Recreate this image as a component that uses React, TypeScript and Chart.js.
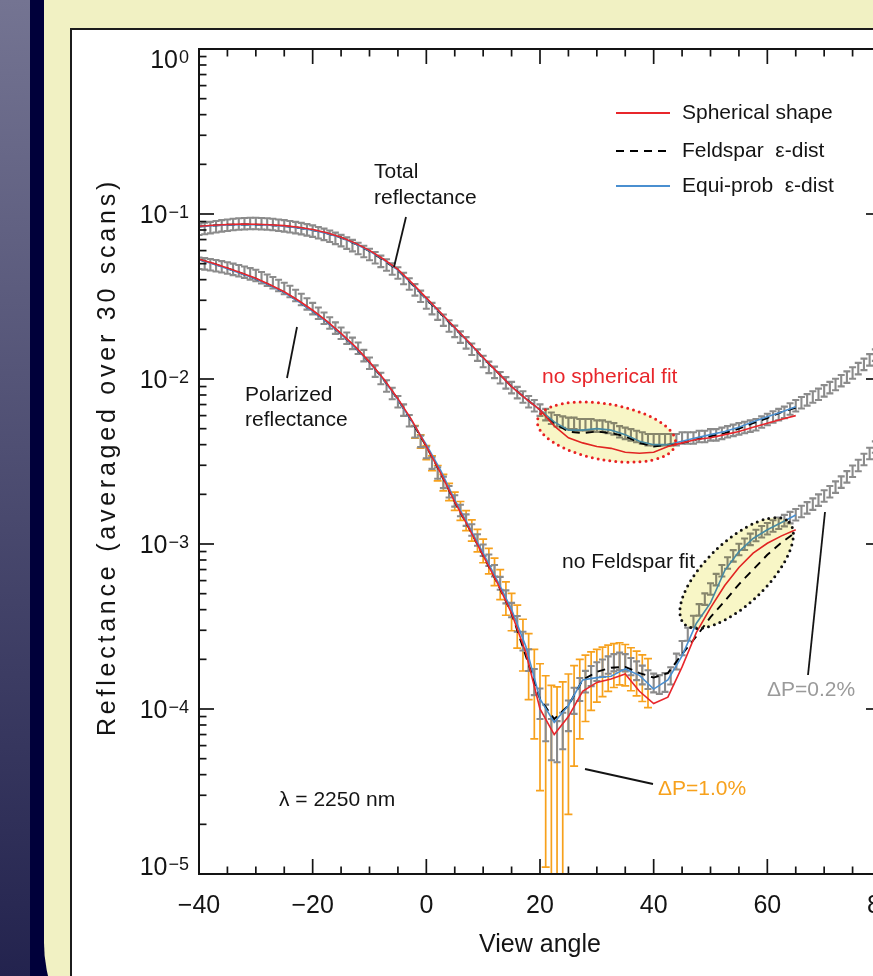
import { useEffect, useRef } from 'react';
import { Chart, registerables } from 'chart.js';

Chart.register(...registerables);

const FONT = "'Liberation Sans', Arial, sans-serif";

// ---------------- measured data (1 degree steps) ----------------
const ANGLES = [
  -40, -39, -38, -37, -36, -35, -34, -33, -32, -31,
  -30, -29, -28, -27, -26, -25, -24, -23, -22, -21,
  -20, -19, -18, -17, -16, -15, -14, -13, -12, -11,
  -10, -9, -8, -7, -6, -5, -4, -3, -2, -1,
  0, 1, 2, 3, 4, 5, 6, 7, 8, 9,
  10, 11, 12, 13, 14, 15, 16, 17, 18, 19,
  20, 21, 22, 23, 24, 25, 26, 27, 28, 29,
  30, 31, 32, 33, 34, 35, 36, 37, 38, 39,
  40, 41, 42, 43, 44, 45, 46, 47, 48, 49,
  50, 51, 52, 53, 54, 55, 56, 57, 58, 59,
  60, 61, 62, 63, 64, 65, 66, 67, 68, 69,
  70, 71, 72, 73, 74, 75, 76, 77, 78, 79,
  80,
];

const TOTAL_MEAS = [
  0.0810, 0.0820, 0.0830, 0.0840, 0.0850, 0.0858, 0.0866, 0.0872, 0.0876, 0.0878,
  0.0878, 0.0876, 0.0872, 0.0866, 0.0858, 0.0850, 0.0840, 0.0830, 0.0818, 0.0804,
  0.0790, 0.0772, 0.0755, 0.0735, 0.0714, 0.0692, 0.0668, 0.0645, 0.0620, 0.0595,
  0.0570, 0.0545, 0.0518, 0.0492, 0.0466, 0.0440, 0.0408, 0.0378, 0.0348, 0.0318,
  0.0290, 0.0268, 0.0248, 0.0228, 0.0210, 0.0195, 0.0180, 0.0166, 0.0152, 0.0140,
  0.0128, 0.0118, 0.0110, 0.0102, 0.0095, 0.0089, 0.0083, 0.0078, 0.0073, 0.0069,
  0.0065, 0.0061, 0.0058, 0.0056, 0.0055, 0.0054, 0.0054, 0.0053, 0.0053, 0.0053,
  0.0052, 0.0052, 0.0051, 0.0050, 0.0048, 0.0047, 0.0046, 0.0045, 0.0044, 0.0043,
  0.0043, 0.0043, 0.0043, 0.0043, 0.0043, 0.0044, 0.0044, 0.0044, 0.0045, 0.0045,
  0.0046, 0.0046, 0.0047, 0.0048, 0.0049, 0.0050, 0.0051, 0.0052, 0.0053, 0.0055,
  0.0057, 0.0059, 0.0061, 0.0063, 0.0066, 0.0069, 0.0072, 0.0075, 0.0078, 0.0081,
  0.0085, 0.0089, 0.0093, 0.0098, 0.0103, 0.0109, 0.0116, 0.0123, 0.0131, 0.0140,
  0.0150,
];
const TOTAL_ERR_PCT = 8;

const POLAR_MEAS = [
  0.0505, 0.0500, 0.0494, 0.0487, 0.0480, 0.0472, 0.0463, 0.0454, 0.0445, 0.0435,
  0.0425, 0.0412, 0.0398, 0.0384, 0.0370, 0.0355, 0.0340, 0.0322, 0.0304, 0.0286,
  0.0268, 0.0251, 0.0234, 0.0219, 0.0204, 0.0190, 0.0177, 0.0165, 0.0154, 0.0139,
  0.0125, 0.0112, 0.0101, 0.0091, 0.0082, 0.0073, 0.0065, 0.0056, 0.0048, 0.0042,
  0.0036, 0.0031, 0.0027, 0.00237, 0.00208, 0.00183, 0.0016, 0.0014, 0.00122, 0.00106,
  0.00092, 0.0008, 0.00069, 0.00058, 0.00048, 0.0004, 0.00033, 0.00026, 0.0002, 0.000148,
  0.00011, 0.000085, 0.000068, 0.000066, 0.000076, 0.000093, 0.000114, 0.000133, 0.000148, 0.00016,
  0.00017, 0.000178, 0.000186, 0.000192, 0.000196, 0.000192, 0.000182, 0.000172, 0.000162, 0.000152,
  0.000145, 0.000142, 0.000146, 0.00016, 0.000195, 0.000235, 0.000285, 0.00034, 0.0004, 0.000465,
  0.000535, 0.00061, 0.00069, 0.00077, 0.00085, 0.00093, 0.001, 0.00107, 0.00113, 0.00119,
  0.00124, 0.00129, 0.00134, 0.00139, 0.00145, 0.00151, 0.00158, 0.00166, 0.00175, 0.00185,
  0.00196, 0.00208, 0.00222, 0.00238, 0.00256, 0.00277, 0.003, 0.00326, 0.00355, 0.00388,
  0.00425,
];

// grey error bars (ΔP = 0.2 %), relative %
const POLAR_ERR_PCT = [
  8, 8, 8, 8, 8, 8, 8, 8, 8, 8,
  8, 8, 8, 8, 8, 8, 8, 8, 8, 8,
  8, 8, 8, 8, 8, 8, 8, 8, 8, 8,
  8, 8, 8, 8, 8, 8, 8, 8, 8, 8,
  8, 8, 8, 8, 8, 8, 8, 8, 8, 8,
  8, 8, 8, 9, 9, 10, 11, 13, 15, 18,
  21, 25, 28, 28, 25, 21, 18, 16, 15, 14,
  13, 12, 12, 12, 12, 12, 12, 13, 13, 13,
  13, 13, 13, 12, 11, 10, 9, 8, 8, 8,
  8, 8, 8, 8, 8, 8, 8, 8, 8, 8,
  8, 8, 8, 8, 8, 8, 8, 8, 8, 8,
  8, 8, 8, 8, 8, 8, 8, 8, 8, 8,
  8,
];

// orange error bars (ΔP = 1.0 %), absolute, units of 1e-5
const ORANGE_ANGLES = [
  -2, -1, 0, 1, 2, 3, 4, 5, 6, 7,
  8, 9, 10, 11, 12, 13, 14, 15, 16, 17,
  18, 19, 20, 21, 22, 23, 24, 25, 26, 27,
  28, 29, 30, 31, 32, 33, 34, 35, 36, 37,
  38, 39,
];
const ORANGE_ERR_E5 = [
  42, 39, 35, 32, 29, 27, 25, 23, 21, 19.5,
  18, 16.5, 15, 14, 13, 12, 11, 10.2, 9.6, 9,
  8.6, 8.2, 7.8, 7.4, 7.1, 7, 7, 7, 6.9, 6.7,
  6.4, 6.2, 6, 5.9, 5.8, 5.7, 5.6, 5.4, 5.3, 5.2,
  5.1, 5,
];

// ---------------- model curves (2.5 degree steps) ----------------
const MODEL_ANGLES = [
  -40, -37.5, -35, -32.5, -30, -27.5, -25, -22.5, -20, -17.5,
  -15, -12.5, -10, -7.5, -5, -2.5, 0, 2.5, 5, 7.5,
  10, 12.5, 15, 17.5, 20, 22.5, 25, 27.5, 30, 32.5,
  35, 37.5, 40, 42.5, 45, 47.5, 50, 52.5, 55, 57.5,
  60, 62.5, 65,
];

const TOTAL_SPHERICAL = [
  0.0842, 0.0855, 0.0864, 0.0868, 0.0866, 0.0860, 0.0850, 0.0832, 0.0806, 0.0770,
  0.0724, 0.0666, 0.0602, 0.0532, 0.0462, 0.0381, 0.0310, 0.0253, 0.0205, 0.0167,
  0.0135, 0.0110, 0.0090, 0.0076, 0.0065, 0.0052, 0.0044, 0.0041, 0.0039, 0.0038,
  0.0036, 0.00355, 0.0036, 0.0039, 0.0041, 0.0043, 0.0044, 0.0046, 0.0048, 0.0051,
  0.0054, 0.0057, 0.0060,
];
const TOTAL_FELDSPAR = [
  0.0840, 0.0852, 0.0860, 0.0864, 0.0862, 0.0856, 0.0845, 0.0826, 0.0800, 0.0764,
  0.0718, 0.0660, 0.0595, 0.0525, 0.0455, 0.0375, 0.0305, 0.0250, 0.0203, 0.0166,
  0.0134, 0.0110, 0.0090, 0.0076, 0.0065, 0.0054, 0.0048, 0.0047, 0.0048, 0.0047,
  0.0045, 0.0041, 0.0039, 0.0040, 0.0041, 0.0043, 0.0045, 0.0047, 0.0050, 0.0054,
  0.0058, 0.0063, 0.0067,
];
const TOTAL_EQUIPROB = [
  0.0838, 0.0850, 0.0858, 0.0862, 0.0860, 0.0854, 0.0843, 0.0824, 0.0798, 0.0763,
  0.0717, 0.0660, 0.0596, 0.0527, 0.0457, 0.0377, 0.0307, 0.0251, 0.0204, 0.0166,
  0.0134, 0.0110, 0.0090, 0.0076, 0.0065, 0.0055, 0.0049, 0.0049, 0.0050, 0.0049,
  0.0046, 0.0042, 0.0040, 0.0040, 0.0042, 0.0044, 0.0046, 0.0048, 0.0051, 0.0055,
  0.0059, 0.0063, 0.0068,
];

const POLAR_SPHERICAL = [
  0.0532, 0.0503, 0.0471, 0.0439, 0.0408, 0.0373, 0.0338, 0.0299, 0.0261, 0.0224,
  0.0189, 0.0157, 0.0127, 0.0100, 0.0076, 0.0056, 0.0039, 0.0027, 0.0018, 0.00125,
  0.00085, 0.00058, 0.00038, 0.00022, 0.0001, 0.00007, 0.00009, 0.000128, 0.000145, 0.000152,
  0.000163, 0.000128, 0.000108, 0.000118, 0.00018, 0.00029, 0.00041, 0.00056, 0.00072, 0.00088,
  0.00101, 0.00112, 0.00122,
];
const POLAR_FELDSPAR = [
  0.0530, 0.0500, 0.0468, 0.0436, 0.0405, 0.0370, 0.0335, 0.0296, 0.0258, 0.0222,
  0.0187, 0.0155, 0.0126, 0.0099, 0.0075, 0.0055, 0.0039, 0.0027, 0.0018, 0.00125,
  0.00085, 0.00058, 0.00038, 0.00021, 0.000115, 0.000087, 0.000105, 0.00015, 0.000168, 0.000178,
  0.00018, 0.000165, 0.000155, 0.000165, 0.000215, 0.000275, 0.00036, 0.00045, 0.00057, 0.0007,
  0.00086, 0.00102, 0.00118,
];
const POLAR_EQUIPROB = [
  0.0528, 0.0498, 0.0466, 0.0434, 0.0403, 0.0368, 0.0334, 0.0295, 0.0257, 0.0221,
  0.0187, 0.0155, 0.0126, 0.0099, 0.0075, 0.0055, 0.0040, 0.0028, 0.00185, 0.00128,
  0.00088, 0.0006, 0.0004, 0.00024, 0.000115, 0.000083, 0.000105, 0.00015, 0.000155, 0.000158,
  0.000175, 0.00016, 0.000132, 0.00015, 0.00021, 0.00033, 0.00044, 0.00069, 0.0009, 0.00108,
  0.00122, 0.00135, 0.0015,
];

// ---------------- axes ----------------
const X_MIN = -40;
const X_MAX = 80;
const X_MAJOR_STEP = 20;
const X_MINOR_STEP = 5;
const Y_MIN = 1e-5;
const Y_MAX = 1;
const Y_DECADES = [1, 1e-1, 1e-2, 1e-3, 1e-4, 1e-5];
const Y_EXPONENTS = ['0', '\u22121', '\u22122', '\u22123', '\u22124', '\u22125'];

const LEGEND_LABELS = ['Spherical shape', 'Feldspar  \u03b5-dist', 'Equi-prob  \u03b5-dist'];

// ---------------- colours ----------------
const GRAY = '#8b8b8b';
const ORANGE = '#f7a11c';
const RED = '#e8262b';
const BLUE = '#4a8fd0';
const INK = '#141414';

type Bars = { lo: number[]; hi: number[]; color: string; cap: number; width: number };

const pts = (xs: number[], ys: number[]) => xs.map((x, i) => ({ x, y: ys[i] }));

const orangeCenters = ORANGE_ANGLES.map((a) => POLAR_MEAS[ANGLES.indexOf(a)]);

const ERROR_BARS: Record<string, Bars> = {
  'orange-polar': {
    lo: orangeCenters.map((v, i) => v - ORANGE_ERR_E5[i] * 1e-5),
    hi: orangeCenters.map((v, i) => v + ORANGE_ERR_E5[i] * 1e-5),
    color: ORANGE, cap: 8, width: 1.7,
  },
  'gray-polar': {
    lo: POLAR_MEAS.map((v, i) => v * (1 - POLAR_ERR_PCT[i] / 100)),
    hi: POLAR_MEAS.map((v, i) => v * (1 + POLAR_ERR_PCT[i] / 100)),
    color: GRAY, cap: 7, width: 2.1,
  },
  'gray-total': {
    lo: TOTAL_MEAS.map((v) => v * (1 - TOTAL_ERR_PCT / 100)),
    hi: TOTAL_MEAS.map((v) => v * (1 + TOTAL_ERR_PCT / 100)),
    color: GRAY, cap: 7, width: 2.1,
  },
};

const errorBarPlugin = {
  id: 'errorBars',
  beforeDatasetsDraw(chart: any) {
    const { ctx, chartArea: a, scales } = chart;
    const y = scales.y;
    ctx.save();
    ctx.beginPath();
    ctx.rect(a.left, a.top, a.right - a.left, a.bottom - a.top);
    ctx.clip();
    chart.data.datasets.forEach((ds: any, i: number) => {
      const eb = ERROR_BARS[ds.label];
      if (!eb) return;
      const meta = chart.getDatasetMeta(i);
      ctx.strokeStyle = eb.color;
      ctx.lineWidth = eb.width;
      meta.data.forEach((pt: any, j: number) => {
        const px = pt.x;
        const yHi = y.getPixelForValue(eb.hi[j]);
        const lo = eb.lo[j];
        const clipped = !(lo > Y_MIN);
        const yLo = clipped ? a.bottom + 5 : y.getPixelForValue(lo);
        ctx.beginPath();
        ctx.moveTo(px, yHi);
        ctx.lineTo(px, yLo);
        ctx.moveTo(px - eb.cap / 2, yHi);
        ctx.lineTo(px + eb.cap / 2, yHi);
        if (!clipped) {
          ctx.moveTo(px - eb.cap / 2, yLo);
          ctx.lineTo(px + eb.cap / 2, yLo);
        }
        ctx.stroke();
      });
    });
    ctx.restore();
  },
};

// highlighted regions: centre in data coords, radii in px
const HIGHLIGHTS = [
  { x: 31.7, y: 0.00477, rx: 70, ry: 28, rot: 10, color: '#e82222' },
  { x: 54.6, y: 0.000667, rx: 73, ry: 31, rot: -44, color: '#111111' },
];

const highlightPlugin = {
  id: 'highlights',
  afterDatasetsDraw(chart: any) {
    const { ctx, scales } = chart;
    HIGHLIGHTS.forEach((h) => {
      const cx = scales.x.getPixelForValue(h.x);
      const cy = scales.y.getPixelForValue(h.y);
      ctx.save();
      ctx.beginPath();
      ctx.ellipse(cx, cy, h.rx, h.ry, (h.rot * Math.PI) / 180, 0, Math.PI * 2);
      ctx.globalCompositeOperation = 'multiply';
      ctx.fillStyle = 'rgb(248,246,198)';
      ctx.fill();
      ctx.globalCompositeOperation = 'source-over';
      ctx.strokeStyle = h.color;
      ctx.lineWidth = 3;
      ctx.lineCap = 'round';
      ctx.setLineDash([0, 6]);
      ctx.stroke();
      ctx.restore();
    });
  },
};

const panelPlugin = {
  id: 'panel',
  beforeDraw(chart: any) {
    const { ctx } = chart;
    ctx.save();
    ctx.fillStyle = '#1c1c1c';
    ctx.fillRect(70, 28, 1000, 1000);
    ctx.fillStyle = '#ffffff';
    ctx.fillRect(72, 30, 1000, 1000);
    ctx.restore();
  },
};

function line(ctx: CanvasRenderingContext2D, x1: number, y1: number, x2: number, y2: number) {
  ctx.beginPath();
  ctx.moveTo(x1, y1);
  ctx.lineTo(x2, y2);
  ctx.stroke();
}

const framePlugin = {
  id: 'frame',
  afterDraw(chart: any) {
    const { ctx, chartArea: a, scales } = chart;
    const xs = scales.x;
    const ys = scales.y;
    ctx.save();
    ctx.strokeStyle = INK;
    ctx.lineWidth = 2;
    ctx.strokeRect(a.left, a.top, a.right - a.left, a.bottom - a.top);

    ctx.lineWidth = 1.7;
    for (let v = X_MIN; v <= X_MAX; v += X_MINOR_STEP) {
      const px = xs.getPixelForValue(v);
      const len = v % X_MAJOR_STEP === 0 ? 15 : 7.5;
      line(ctx, px, a.bottom, px, a.bottom - len);
      line(ctx, px, a.top, px, a.top + len);
    }
    Y_DECADES.forEach((d) => {
      for (let m = 1; m <= 9; m++) {
        const v = d * m;
        if (v > Y_MAX * 1.0001 || v < Y_MIN * 0.9999) continue;
        const py = ys.getPixelForValue(v);
        const len = m === 1 ? 15 : 7.5;
        line(ctx, a.left, py, a.left + len, py);
        line(ctx, a.right, py, a.right - len, py);
      }
    });

    // y tick labels 10^n
    ctx.fillStyle = INK;
    ctx.textBaseline = 'alphabetic';
    Y_DECADES.forEach((d, i) => {
      let cy = ys.getPixelForValue(d);
      if (i === 0) cy += 10;
      if (i === Y_DECADES.length - 1) cy -= 8;
      const baseline = cy + 9;
      ctx.font = `18px ${FONT}`;
      const sup = Y_EXPONENTS[i];
      const supW = ctx.measureText(sup).width;
      const right = a.left - 10;
      ctx.textAlign = 'right';
      ctx.fillText(sup, right, baseline - 18 + 13);
      ctx.font = `25px ${FONT}`;
      ctx.fillText('10', right - supW - 1, baseline);
    });

    // axis titles
    ctx.textAlign = 'center';
    ctx.textBaseline = 'middle';
    ctx.font = `25px ${FONT}`;
    ctx.fillText('View angle', (a.left + a.right) / 2, 945);

    ctx.save();
    const title = 'Reflectance (averaged over 30 scans)';
    ctx.font = `25px ${FONT}`;
    (ctx as any).letterSpacing = '0px';
    const w0 = ctx.measureText(title).width;
    const sp = (558 - w0) / title.length;
    (ctx as any).letterSpacing = `${sp}px`;
    ctx.translate(115, 457);
    ctx.rotate(-Math.PI / 2);
    ctx.textBaseline = 'alphabetic';
    ctx.textAlign = 'left';
    ctx.fillText(title, -279, 0);
    ctx.restore();

    // annotations
    ctx.font = `21px ${FONT}`;
    ctx.textAlign = 'left';
    ctx.textBaseline = 'middle';
    ctx.fillStyle = INK;
    ctx.fillText('Total', 374, 172);
    ctx.fillText('reflectance', 374, 198);
    ctx.fillText('Polarized', 245, 395);
    ctx.fillText('reflectance', 245, 420);
    ctx.fillText('no Feldspar fit', 562, 562);
    ctx.fillText('\u03bb = 2250 nm', 279, 800);
    ctx.fillStyle = RED;
    ctx.fillText('no spherical fit', 542, 377);
    ctx.fillStyle = '#9a9a9a';
    ctx.fillText('\u0394P=0.2%', 767, 690);
    ctx.fillStyle = ORANGE;
    ctx.fillText('\u0394P=1.0%', 658, 789);

    ctx.strokeStyle = INK;
    ctx.lineWidth = 1.8;
    line(ctx, 406, 217, 394, 267);
    line(ctx, 297, 327, 287, 378);
    line(ctx, 585, 769, 653, 784);
    line(ctx, 825, 512, 808, 675);

    // legend
    const ly = [113, 151, 186];
    const lc = [RED, '#000000', BLUE];
    ly.forEach((yy, i) => {
      ctx.save();
      ctx.strokeStyle = lc[i];
      ctx.lineWidth = 2;
      if (i === 1) ctx.setLineDash([8, 6]);
      line(ctx, 616, yy, 670, yy);
      ctx.restore();
      ctx.fillStyle = INK;
      ctx.font = `21px ${FONT}`;
      ctx.fillText(LEGEND_LABELS[i], 682, yy);
    });
    ctx.restore();
  },
};

function buildConfig(): any {
  const measured = (label: string, xs: number[], ys: number[]) => ({
    label,
    data: pts(xs, ys),
    showLine: false,
    pointRadius: 0,
    pointHoverRadius: 0,
    borderWidth: 0,
  });
  const model = (label: string, ys: number[], color: string, dash: number[] = []) => ({
    label,
    data: pts(MODEL_ANGLES, ys),
    borderColor: color,
    borderWidth: dash.length ? 1.9 : 1.6,
    borderDash: dash,
    pointRadius: 0,
    pointHoverRadius: 0,
    tension: 0,
    fill: false,
  });
  return {
    type: 'line',
    data: {
      datasets: [
        measured('orange-polar', ORANGE_ANGLES, orangeCenters),
        measured('gray-polar', ANGLES, POLAR_MEAS),
        measured('gray-total', ANGLES, TOTAL_MEAS),
        model('Spherical shape (total)', TOTAL_SPHERICAL, RED),
        model('Equi-prob (total)', TOTAL_EQUIPROB, BLUE),
        model('Feldspar (total)', TOTAL_FELDSPAR, '#000000', [8, 6]),
        model('Spherical shape (polarized)', POLAR_SPHERICAL, RED),
        model('Equi-prob (polarized)', POLAR_EQUIPROB, BLUE),
        model('Feldspar (polarized)', POLAR_FELDSPAR, '#000000', [8, 6]),
      ],
    },
    options: {
      responsive: false,
      animation: false,
      devicePixelRatio: 1,
      events: [],
      layout: { padding: { left: 0, top: 49, right: 119, bottom: 0 } },
      plugins: {
        legend: { display: false },
        tooltip: { enabled: false },
        title: { display: false },
      },
      scales: {
        x: {
          type: 'linear',
          min: X_MIN,
          max: X_MAX,
          afterFit: (s: any) => { s.height = 126; },
          grid: { display: false, drawTicks: false },
          border: { display: false },
          ticks: {
            stepSize: X_MAJOR_STEP,
            autoSkip: false,
            maxRotation: 0,
            minRotation: 0,
            padding: 17,
            color: INK,
            font: { family: FONT, size: 25 },
            callback: (v: number) => (v < 0 ? '\u2212' + Math.abs(v) : String(v)),
          },
        },
        y: {
          type: 'logarithmic',
          min: Y_MIN,
          max: Y_MAX,
          afterFit: (s: any) => { s.width = 199; },
          grid: { display: false, drawTicks: false },
          border: { display: false },
          ticks: { display: false },
        },
      },
    },
    plugins: [panelPlugin, errorBarPlugin, highlightPlugin, framePlugin],
  };
}

export default function App() {
  const ref = useRef<HTMLCanvasElement>(null);
  useEffect(() => {
    const canvas = ref.current;
    if (!canvas) return;
    const chart = new Chart(canvas, buildConfig());
    return () => chart.destroy();
  }, []);
  return (
    <div
      style={{
        position: 'fixed',
        left: 0,
        top: 0,
        width: 873,
        height: 976,
        overflow: 'hidden',
        background: '#00003a',
      }}
    >
      <div
        style={{
          position: 'absolute',
          left: 0,
          top: 0,
          width: 30,
          height: 976,
          background: 'linear-gradient(#747492, #23234e)',
        }}
      />
      <div
        style={{
          position: 'absolute',
          left: 44,
          top: 0,
          width: 900,
          height: 1079,
          background: '#f1f1c3',
          borderBottomLeftRadius: 136,
        }}
      />
      <canvas
        ref={ref}
        width={1000}
        height={1000}
        style={{ position: 'absolute', left: 0, top: 0, width: 1000, height: 1000 }}
      />
    </div>
  );
}
